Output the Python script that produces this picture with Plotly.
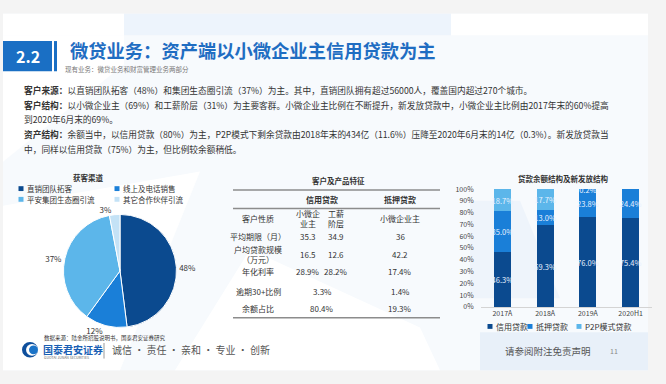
import plotly.graph_objects as go

W, H = 666, 384
FONT = "Noto Sans CJK SC"


def px(x):
    return x / W


def py(y):
    return 1 - y / H


# ---------------- data ----------------
pie_title = "获客渠道"
pie_labels = ["直销团队拓客", "线上及电话销售", "平安集团生态圈引流", "其它合作伙伴引流"]
pie_values = [48, 12, 37, 3]
pie_colors = ["#0b4a8f", "#1a7fd8", "#5cb6ea", "#c4e2f6"]

bar_title = "贷款余额结构及新发放结构"
years = ["2017A", "2018A", "2019A", "2020H1"]
credit = [46.3, 69.3, 76.0, 75.4]
mortgage = [35.0, 13.0, 23.8, 24.4]
p2p = [18.7, 17.7, 0.2, 0.0]
bar_series = ["信用贷款", "抵押贷款", "P2P模式贷款"]
bar_colors = ["#0b4a8f", "#1a7fd8", "#5cb6ea"]
y_ticks = [0, 10, 20, 30, 40, 50, 60, 70, 80, 90, 100]

table_title = "客户及产品特征"
table_groups = ["信用贷款", "抵押贷款"]
row_names = ["客户性质", "平均期限（月）", "户均贷款规模<br>（万元）", "年化利率", "逾期30+比例", "余额占比"]
col_small_biz = ["小微企<br>业主", "35.3", "16.5", "28.9%"]
col_salary = ["工薪<br>阶层", "34.9", "12.6", "28.2%"]
col_credit_merged = ["3.3%", "80.4%"]
col_mortgage = ["小微企业主", "36", "42.2", "17.4%", "1.4%", "19.3%"]

title_num = "2.2"
title_text = "微贷业务：资产端以小微企业主信用贷款为主"
subtitle_text = "现有业务：微贷业务和财富管理业务两部分"
para_lines = [
    "<b>客户来源：</b>以直销团队拓客（48%）和集团生态圈引流（37%）为主。其中，直销团队拥有超过56000人，覆盖国内超过270个城市。",
    "<b>客户结构：</b>以小微企业主（69%）和工薪阶层（31%）为主要客群。小微企业主比例在不断提升，新发放贷款中，小微企业主比例由2017年末的60%提高",
    "到2020年6月末的69%。",
    "<b>资产结构：</b>余额当中，以信用贷款（80%）为主，P2P模式下剩余贷款由2018年末的434亿（11.6%）压降至2020年6月末的14亿（0.3%）。新发放贷款当",
    "中，同样以信用贷款（75%）为主，但比例较余额稍低。",
]
source_text = "数据来源：陆金所招股说明书，国泰君安证券研究"
brand_text = "国泰君安证券"
brand_en = "GUOTAI JUNAN SECURITIES"
motto_text = "诚信 · 责任 · 亲和 · 专业 · 创新"
disclaimer_text = "请参阅附注免责声明"
page_num = "11"

# ---------------- figure ----------------
fig = go.Figure()

fig.add_trace(go.Pie(
    labels=pie_labels, values=pie_values, sort=False, direction="clockwise",
    marker=dict(colors=pie_colors, line=dict(color="white", width=1)),
    texttemplate="%{value}%", textposition="outside",
    textfont=dict(size=8, color="#333", family=FONT),
    domain=dict(x=[px(62), px(178)], y=[py(330), py(214)]),
    showlegend=False, hoverinfo="none",
))


def lbl(vals):
    return [f"{v:.1f}%" if v > 0 else "" for v in vals]


for name, vals, col in zip(bar_series, [credit, mortgage, p2p], bar_colors):
    fig.add_trace(go.Bar(
        x=years, y=vals, name=name, marker=dict(color=col, line=dict(width=0)),
        text=lbl(vals), textposition="inside", insidetextanchor="middle",
        constraintext="none", textangle=0,
        textfont=dict(size=7.5, color="#e8f2ff", family=FONT),
        showlegend=False, hoverinfo="none",
    ))

fig.update_layout(
    width=W, height=H, margin=dict(l=0, r=0, t=0, b=0),
    paper_bgcolor="#f4f4f4", plot_bgcolor="rgba(0,0,0,0)",
    barmode="stack", bargap=0.6,
    font=dict(family=FONT, color="#333"),
    xaxis=dict(domain=[px(481), px(652)], showgrid=False, showline=True,
               linecolor="#d4d4d4", linewidth=1, ticks="",
               tickfont=dict(size=7, color="#444"), fixedrange=True),
    yaxis=dict(domain=[py(309), py(188)], range=[0, 100], tickvals=y_ticks,
               ticktext=[f"{t}%" for t in y_ticks], showgrid=False, zeroline=False,
               showline=False, ticks="outside", ticklen=5, tickcolor="rgba(0,0,0,0)",
               tickfont=dict(size=7, color="#444"), fixedrange=True),
)

shapes = []


def rect(x0, y0, x1, y1, color, line=None, layer="below"):
    shapes.append(dict(type="rect", xref="paper", yref="paper",
                       x0=px(x0), x1=px(x1), y0=py(y1), y1=py(y0),
                       fillcolor=color, line=dict(width=0) if line is None else line,
                       layer=layer))


def poly(points, color, layer="below"):
    path = "M " + " L ".join(f"{px(a):.5f},{py(b):.5f}" for a, b in points) + " Z"
    shapes.append(dict(type="path", xref="paper", yref="paper", path=path,
                       fillcolor=color, line=dict(width=0), layer=layer))


def hline(x0, x1, y, color="#8c8c8c", width=1.5):
    shapes.append(dict(type="line", xref="paper", yref="paper",
                       x0=px(x0), x1=px(x1), y0=py(y), y1=py(y),
                       line=dict(color=color, width=width), layer="above"))


# slide background
rect(3, 8, 648, 374, "#f7fafd")
rect(3, 8, 124, 30, "#ffffff")
rect(124, 8, 451, 30, "#edf4fc")
rect(451, 8, 648, 30, "#ffffff")
poly([(3, 30), (124, 30), (124, 60), (3, 160)], "#ffffff")
poly([(3, 205), (200, 170), (120, 374), (3, 374)], "#ffffff")
poly([(175, 374), (250, 250), (420, 330), (440, 374)], "#ffffff")
poly([(470, 200), (520, 200), (560, 300), (470, 300)], "#eef4fb")
rect(480, 335, 648, 374, "#e8f0f9")

# title block
rect(3, 36, 52, 67, "#1a6fc4", layer="above")
rect(54, 36, 57, 67, "#1a6fc4", layer="above")

# table lines
hline(233, 440, 189)
hline(233, 440, 208)
hline(233, 440, 320)

# legend markers (pie)
leg_pos = [(21, 187.5), (117, 187.5), (21, 198.5), (117, 198.5)]
for (lx, ly), c in zip(leg_pos, pie_colors):
    rect(lx - 2.5, ly - 2.5, lx + 2.5, ly + 2.5, c, layer="above")

# legend markers (bars)
bar_leg_pos = [(490, 329), (530, 329), (579, 329)]
for (lx, ly), c in zip(bar_leg_pos, bar_colors):
    rect(lx - 2.5, ly - 2.5, lx + 2.5, ly + 2.5, c, layer="above")

# logo
shapes.append(dict(type="circle", xref="paper", yref="paper",
                   x0=px(22), x1=px(38), y0=py(361), y1=py(345),
                   fillcolor="#0f4f9c", line=dict(width=0), layer="above"))
shapes.append(dict(type="circle", xref="paper", yref="paper",
                   x0=px(26), x1=px(38), y0=py(359), y1=py(347),
                   fillcolor="#ffffff", line=dict(width=0), layer="above"))
shapes.append(dict(type="circle", xref="paper", yref="paper",
                   x0=px(29), x1=px(38), y0=py(357.5), y1=py(348.5),
                   fillcolor="#1a73c8", line=dict(width=0), layer="above"))
shapes.append(dict(type="line", xref="paper", yref="paper",
                   x0=px(104), x1=px(104), y0=py(346), y1=py(362),
                   line=dict(color="#9a9a9a", width=1), layer="above"))

fig.update_layout(shapes=shapes)

ann = []


def text(x, y, s, size=8, color="#333", anchor="left", bold=False, vanchor="middle"):
    ann.append(dict(x=px(x), y=py(y), xref="paper", yref="paper",
                    text=f"<b>{s}</b>" if bold else s, showarrow=False,
                    xanchor=anchor, yanchor=vanchor,
                    font=dict(size=size, color=color, family=FONT)))


text(27.5, 51.5, title_num, size=16, color="white", anchor="center", bold=True)
text(68, 45, title_text, size=18.3, color="#1f6dc2", bold=True)
text(63, 64.5, subtitle_text, size=6.5, color="#777")

para_y = [87, 102, 117, 132, 147]
for s, y in zip(para_lines, para_y):
    text(22, y, s, size=8.7, color="#333")

text(88, 176, pie_title, size=7.5, color="#333", anchor="center", bold=True)
for (lx, ly), s in zip(leg_pos, pie_labels):
    text(lx + 4, ly, s, size=7.5, color="#333")

text(338, 179, table_title, size=7.5, color="#333", anchor="center", bold=True)
text(322, 199, table_groups[0], size=8, anchor="center", bold=True)
text(400, 199, table_groups[1], size=8, anchor="center", bold=True)
row_y = [218, 237, 255, 273, 293, 311]
for s, y in zip(row_names, row_y):
    text(258, y, s, size=8, anchor="center")
for s, y in zip(col_small_biz, row_y):
    text(308, y, s, size=8, anchor="center")
for s, y in zip(col_salary, row_y):
    text(336, y, s, size=8, anchor="center")
for s, y in zip(col_credit_merged, row_y[4:]):
    text(322, y, s, size=8, anchor="center")
for s, y in zip(col_mortgage, row_y):
    text(400, y, s, size=8, anchor="center")

text(563, 177, bar_title, size=7.5, color="#333", anchor="center", bold=True)
for (lx, ly), s in zip(bar_leg_pos, bar_series):
    text(lx + 4, ly, s, size=8, color="#333")

# footer
text(42, 341, source_text, size=5.5, color="#333")
text(41, 353, brand_text, size=10, color="#1a5fb4", bold=True)
text(42, 361, brand_en, size=3.5, color="#666")
text(110, 353, motto_text, size=10, color="#555")
text(503, 354, disclaimer_text, size=9.5, color="#555")
text(608, 354, page_num, size=7, color="#888")

fig.update_layout(annotations=ann)

fig.write_html(
    "out.html",
    config={"displayModeBar": False, "staticPlot": True},
    post_script="document.body.style.margin='0';document.body.style.background='#f4f4f4';"
                "document.body.style.overflow='hidden';",
)
